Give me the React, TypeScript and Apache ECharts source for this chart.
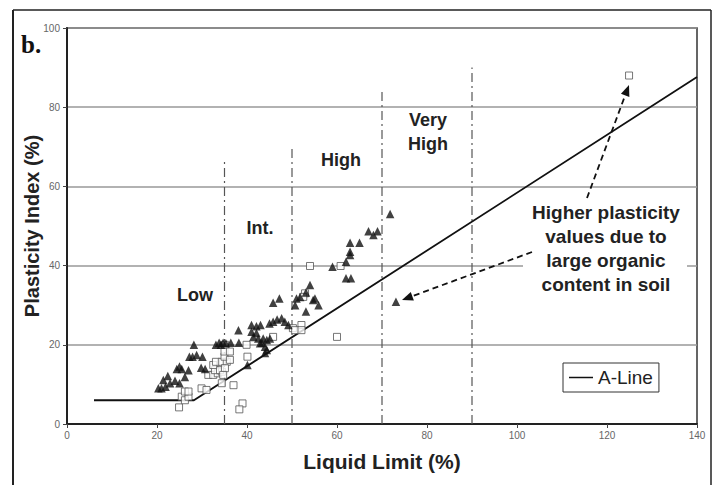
import React, { useEffect, useRef } from "react";
import * as echarts from "echarts";

// Liquid Limit (%), Plasticity Index (%)
const triangles: [number, number][] = [
  [20.3, 9], [21, 9], [21.9, 9.4], [22.9, 10.3], [21.4, 11.1], [22.4, 12.1], [24, 10.9], [25, 10.3],
  [26.2, 11.9], [24.4, 13.9], [25, 14.5], [25.5, 13.9], [27, 13.6], [29.8, 14.2], [30.7, 13.9],
  [27.2, 17], [27.9, 17], [28.8, 17.4], [30.1, 17], [28.2, 20], [33.1, 20], [33.8, 20.5], [34.2, 20],
  [34.7, 20.5], [35.3, 20.4], [36.4, 20.5], [38.2, 20.5], [38.1, 23.7], [41, 25], [42.1, 24.7], [43, 25],
  [41, 23.3], [42.1, 23], [45, 25.4], [45.8, 25.8], [46.7, 26.4], [47.7, 26.7], [48.4, 25.8], [49.2, 25],
  [41.4, 22], [42.5, 21.6], [43.6, 21.6], [44.4, 21.2], [45.1, 21.6], [43.3, 20.5], [42.9, 20.4],
  [44, 19.5], [44.4, 18.7], [44, 17.9], [40.1, 14.9], [45.8, 30.6], [47.2, 31.7], [51, 31.7],
  [51.8, 32.1], [53.1, 33.2], [54, 35.1], [55.1, 31.7], [55.9, 30], [53.1, 28.4], [50.7, 30],
  [54.7, 31.3], [62, 36.8], [63.1, 36.8], [59, 39.7], [62, 41], [62.9, 42.7], [62.9, 43.5],
  [62.9, 45.8], [65, 45.8], [67, 48.7], [68.1, 47.7], [69, 48.7], [71.8, 53], [73.1, 30.9]
];

const squares: [number, number][] = [
  [24.9, 4.2], [25.5, 6.9], [26.2, 6], [27, 6.9], [26.2, 8.2], [27, 8.2], [29.9, 9], [31, 8.6],
  [31.4, 12.4], [32.5, 12.4], [33.5, 12.8], [34.4, 13.2], [32.9, 13.6], [34, 13.6], [32.5, 14.9],
  [33.1, 15.7], [34.4, 15.7], [35.5, 15.7], [35, 17], [35, 18.3], [35.1, 20], [36.2, 18.3],
  [36.2, 16.2], [35.1, 14.1], [34.7, 12.4], [34.4, 10.3], [37, 9.8], [39, 5.2], [38.3, 3.7],
  [40.1, 17], [39.9, 20], [45.8, 22], [50.2, 24.2], [52.1, 25], [50.7, 23.7], [52.1, 23.7],
  [52.9, 33], [52.5, 32.1], [54, 39.9], [60.8, 39.9], [60, 22], [124.9, 88]
];

const aLine: [number, number][] = [[6, 6], [28.2, 6], [140, 87.6]];

const zoneX = [35, 50, 70, 90];
const zoneTop = [67, 70, 84, 90];

const zoneLabels = ["Low", "Int.", "High", "Very\nHigh"];
const noteText = "Higher plasticity\nvalues due to\nlarge organic\ncontent in soil";

const xTitle = "Liquid Limit (%)";
const yTitle = "Plasticity Index (%)";
const panelTag = "b.";

function arrow(x1: number, y1: number, x2: number, y2: number) {
  const dx = x2 - x1;
  const dy = y2 - y1;
  const len = Math.sqrt(dx * dx + dy * dy);
  const ux = dx / len;
  const uy = dy / len;
  const hl = 11;
  const hw = 4.5;
  const bx = x2 - ux * hl;
  const by = y2 - uy * hl;
  return [
    {
      type: "line",
      shape: { x1, y1, x2: bx, y2: by },
      style: { stroke: "#111", lineWidth: 1.8, lineDash: [6, 4] },
      z: 10
    },
    {
      type: "polygon",
      shape: {
        points: [
          [x2, y2],
          [bx - uy * hw, by + ux * hw],
          [bx + uy * hw, by - ux * hw]
        ]
      },
      style: { fill: "#111" },
      z: 10
    }
  ];
}

export default function App() {
  const ref = useRef<HTMLDivElement>(null);

  useEffect(() => {
    if (!ref.current) return;
    const chart = echarts.init(ref.current, null, { renderer: "svg" });

    const zoneSeries = zoneX.map((x, i) => ({
      type: "line",
      data: [[x, 0], [x, zoneTop[i]]],
      symbol: "none",
      silent: true,
      lineStyle: { color: "#555", width: 1.2, type: [9, 4, 2, 4] },
      z: 1
    }));

    const labelFont = {
      fontFamily: "Liberation Sans, Arial, sans-serif",
      fontWeight: "bold",
      fontSize: 18,
      fill: "#222"
    };

    chart.setOption({
      animation: false,
      backgroundColor: "#fff",
      grid: {
        left: 67,
        right: 20,
        top: 28,
        bottom: 61,
        show: true,
        borderColor: "#333",
        borderWidth: 1.5
      },
      legend: {
        data: [{ name: "A-Line", icon: "rect" }],
        left: 563,
        top: 363,
        padding: [5, 6],
        borderColor: "#333",
        borderWidth: 1,
        itemWidth: 24,
        itemHeight: 1.5,
        itemStyle: { color: "#111" },
        textStyle: {
          fontFamily: "Liberation Sans, Arial, sans-serif",
          fontSize: 19,
          color: "#222"
        },
        backgroundColor: "#fff"
      },
      xAxis: {
        type: "value",
        min: 0,
        max: 140,
        interval: 20,
        name: xTitle,
        nameLocation: "middle",
        nameGap: 27,
        nameMoveOverlap: false,
        nameTextStyle: {
          fontFamily: "Liberation Sans, Arial, sans-serif",
          fontWeight: "bold",
          fontSize: 21,
          color: "#222"
        },
        axisLine: { show: true, lineStyle: { color: "#222", width: 2 } },
        axisTick: { show: true, length: 4, lineStyle: { color: "#444" } },
        axisLabel: {
          fontFamily: "Liberation Sans Narrow, Liberation Sans, Arial, sans-serif",
          fontSize: 10,
          color: "#666",
          margin: 6
        },
        splitLine: { show: false }
      },
      yAxis: {
        type: "value",
        min: 0,
        max: 100,
        interval: 20,
        name: yTitle,
        nameLocation: "middle",
        nameGap: 25,
        nameMoveOverlap: false,
        nameRotate: 90,
        nameTextStyle: {
          fontFamily: "Liberation Sans, Arial, sans-serif",
          fontWeight: "bold",
          fontSize: 20,
          color: "#222"
        },
        axisLine: { show: true, lineStyle: { color: "#222", width: 2 } },
        axisTick: { show: true, length: 4, lineStyle: { color: "#444" } },
        axisLabel: {
          fontFamily: "Liberation Sans Narrow, Liberation Sans, Arial, sans-serif",
          fontSize: 10,
          color: "#666",
          margin: 7
        },
        splitLine: { show: true, lineStyle: { color: "#999", width: 1.5 } }
      },
      series: [
        ...zoneSeries,
        {
          name: "A-Line",
          type: "line",
          data: aLine,
          symbol: "none",
          lineStyle: { color: "#111", width: 1.8 },
          itemStyle: { color: "#111" },
          z: 3
        },
        {
          name: "Organic",
          type: "scatter",
          data: squares,
          symbol: "rect",
          symbolSize: 7,
          itemStyle: { color: "#fff", borderColor: "#555", borderWidth: 1 },
          z: 4
        },
        {
          name: "Soil",
          type: "scatter",
          data: triangles,
          symbol: "triangle",
          symbolSize: 8.5,
          itemStyle: { color: "#111" },
          z: 5
        }
      ],
      graphic: [
        {
          type: "line",
          shape: { x1: 13, y1: 10, x2: 711, y2: 10 },
          style: { stroke: "#222", lineWidth: 1.5 }
        },
        {
          type: "line",
          shape: { x1: 13, y1: 10, x2: 13, y2: 485 },
          style: { stroke: "#222", lineWidth: 2 }
        },
        {
          type: "line",
          shape: { x1: 711, y1: 10, x2: 711, y2: 485 },
          style: { stroke: "#222", lineWidth: 1.5 }
        },
        {
          type: "text",
          x: 21,
          y: 32,
          style: {
            text: panelTag,
            fontFamily: "Liberation Serif, Times New Roman, serif",
            fontWeight: "bold",
            fontSize: 25,
            fill: "#111"
          }
        },
        { type: "text", x: 195, y: 295, style: { ...labelFont, text: zoneLabels[0], textAlign: "center", textVerticalAlign: "middle" } },
        { type: "text", x: 260, y: 228, style: { ...labelFont, text: zoneLabels[1], textAlign: "center", textVerticalAlign: "middle" } },
        { type: "text", x: 341, y: 160, style: { ...labelFont, text: zoneLabels[2], textAlign: "center", textVerticalAlign: "middle" } },
        {
          type: "text",
          x: 428,
          y: 132,
          style: { ...labelFont, text: zoneLabels[3], lineHeight: 24, textAlign: "center", textVerticalAlign: "middle" }
        },
        {
          type: "rect",
          shape: { x: 523, y: 200, width: 164, height: 96 },
          style: { fill: "#fff" },
          z: 9
        },
        {
          type: "text",
          x: 606,
          y: 248,
          z: 10,
          style: { ...labelFont, fontSize: 19, text: noteText, lineHeight: 24, textAlign: "center", textVerticalAlign: "middle" }
        },
        ...arrow(587, 198, 629, 85),
        ...arrow(532, 252, 402, 300)
      ]
    });

    return () => chart.dispose();
  }, []);

  return <div ref={ref} style={{ position: "fixed", left: 0, top: 0, width: 717, height: 485 }} />;
}
